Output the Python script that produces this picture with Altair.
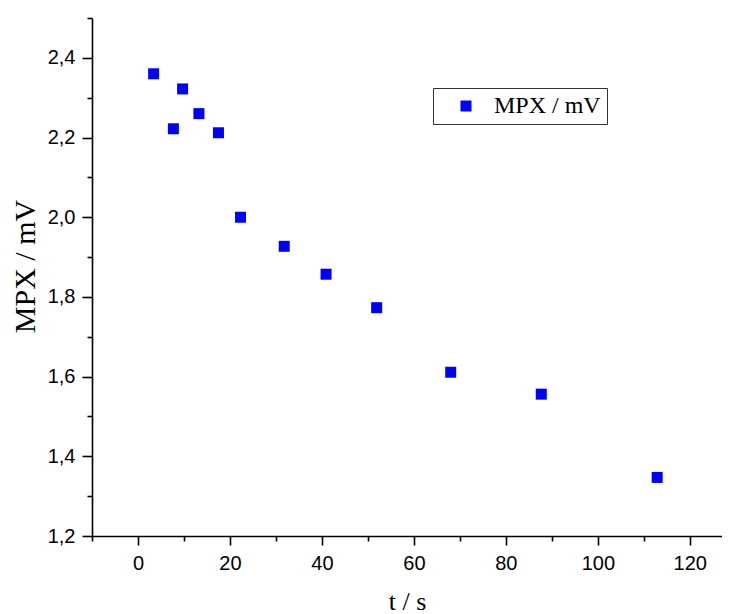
import altair as alt
import pandas as pd

# data
t_s = [3.4, 7.7, 9.7, 13.25, 17.5, 22.3, 31.8, 40.9, 51.9, 68.0, 87.7, 112.9]
mpx_mV = [2.360, 2.222, 2.322, 2.260, 2.212, 2.000, 1.927, 1.857, 1.773, 1.611, 1.556, 1.347]
series_name = "MPX / mV"

x_major = [0, 20, 40, 60, 80, 100, 120]
x_minor = [-10, 10, 30, 50, 70, 90, 110]
y_major = [1.2, 1.4, 1.6, 1.8, 2.0, 2.2, 2.4]
y_minor = [1.3, 1.5, 1.7, 1.9, 2.1, 2.3, 2.5]
x_domain = [-10, 127]
y_domain = [1.2, 2.5]

df = pd.DataFrame({"t": t_s, "mpx": mpx_mV, "series": [series_name] * len(t_s)})

xs = alt.Scale(domain=x_domain, nice=False, zero=False)
ys = alt.Scale(domain=y_domain, nice=False, zero=False)

comma = "replace(format(datum.value, '.1f'), '.', ',')"

common_axis = dict(
    domainColor="black", domainWidth=1.6, tickColor="black", tickWidth=1.6,
    labelFont="Liberation Sans", labelFontSize=20, labelColor="black",
    titleFont="Liberation Serif", titleFontWeight="normal",
    titleColor="black", grid=False,
)

points = alt.Chart(df).mark_square(size=121, opacity=1).encode(
    x=alt.X("t:Q", scale=xs,
            axis=alt.Axis(values=x_major, title="t / s", orient="bottom",
                          tickSize=9, labelPadding=8, titlePadding=15,
                          titleFontSize=26, **common_axis)),
    y=alt.Y("mpx:Q", scale=ys,
            axis=alt.Axis(values=y_major, title="MPX / mV", orient="left",
                          labelExpr=comma, tickSize=10, labelPadding=7,
                          titlePadding=7, titleFontSize=30, titleY=248,
                          **common_axis)),
    color=alt.Color("series:N", scale=alt.Scale(range=["#0000ff"]),
                    legend=alt.Legend(orient="none", legendX=341, legendY=70,
                                      title=None, padding=6, symbolOffset=15,
                                      labelOffset=16, strokeColor="#333333",
                                      fillColor="white", labelFont="Liberation Serif",
                                      labelFontSize=24, labelColor="black",
                                      symbolSize=121, symbolType="square",
                                      symbolStrokeWidth=0, symbolOpacity=1)),
)

minor = alt.Chart(df).mark_square(opacity=0).encode(
    x=alt.X("t:Q", scale=xs,
            axis=alt.Axis(values=x_minor, labels=False, domain=False, tickSize=5,
                          tickColor="black", tickWidth=1.6, title=None,
                          orient="bottom", grid=False)),
    y=alt.Y("mpx:Q", scale=ys,
            axis=alt.Axis(values=y_minor, labels=False, domain=False, tickSize=5,
                          tickColor="black", tickWidth=1.6, title=None,
                          orient="left", grid=False)),
)

chart = (
    alt.layer(points, minor)
    .resolve_axis(x="independent", y="independent")
    .properties(width=630, height=518,
                background="white",
                autosize=alt.AutoSizeParams(type="none"),
                padding={"left": 84, "top": 10, "right": 0, "bottom": 78})
    .configure_view(stroke=None)
)

chart.save("out.html", embed_options={"renderer": "svg", "actions": False})
